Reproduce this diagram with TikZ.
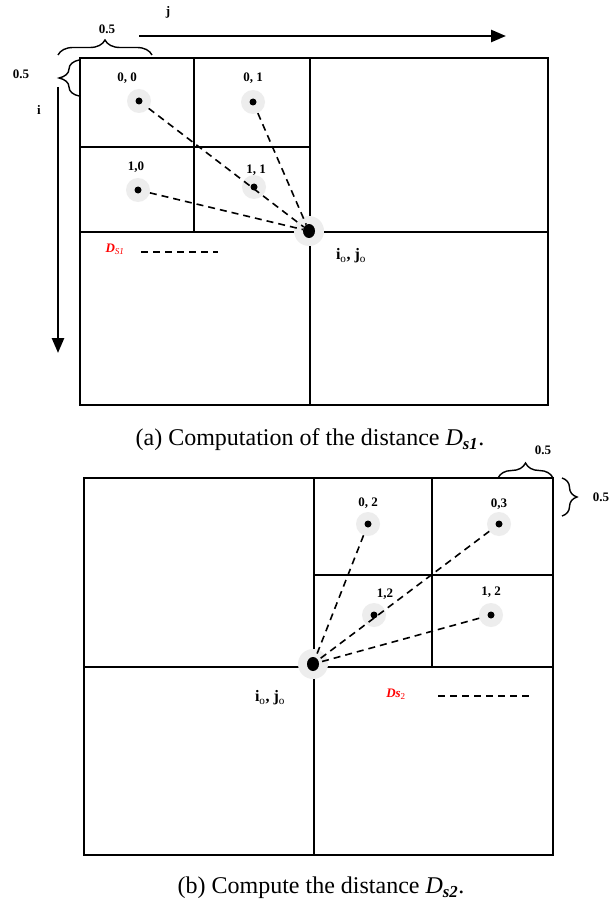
\documentclass[tikz,border=0pt]{standalone}
\usepackage{fontspec}
\setmainfont{Liberation Serif}
\usetikzlibrary{arrows.meta,decorations.pathreplacing,shapes.geometric}
\begin{document}
\begin{tikzpicture}[x=1pt,y=-1pt,
  grid/.style={line width=1.8pt},
  halo/.style={circle,fill=black!7,minimum size=24pt,inner sep=0pt},
  bighalo/.style={circle,fill=black!7,minimum size=30pt,inner sep=0pt},
  dot/.style={circle,fill=black,minimum size=7pt,inner sep=0pt},
  bigdot/.style={ellipse,fill=black,minimum width=12pt,minimum height=14pt,inner sep=0pt},
  link/.style={line width=1.6pt,dash pattern=on 7pt off 5pt},
  lbl/.style={font=\bfseries\fontsize{13}{15}\selectfont,inner sep=0pt},
  axis/.style={line width=2.6pt,-{Triangle[length=15pt,width=12pt]}},
  brc/.style={line width=1.4pt,decorate,decoration={brace,amplitude=#1}},
  brc/.default=15pt,
  captxt/.style={font=\fontsize{24}{28}\selectfont,inner sep=0pt},
  redlbl/.style={text=red,inner sep=0pt}]
\useasboundingbox (0,0) rectangle (611,904);
\fill[white] (0,0) rectangle (611,904);

% ================= (a) =================
\draw[grid] (80,58) rectangle (548,405);
\draw[grid] (310,58) -- (310,405);
\draw[grid] (80,232) -- (548,232);
\draw[grid] (194,58) -- (194,232);
\draw[grid] (80,147) -- (310,147);

\node[halo] (ha00) at (139,101) {};
\node[halo] (ha01) at (253,102) {};
\node[halo] (ha10) at (138,190) {};
\node[halo] (ha11) at (254,187) {};
\node[bighalo] (hac) at (309,231) {};
\node[dot] (a00) at (139,101) {};
\node[dot] (a01) at (253,102) {};
\node[dot] (a10) at (138,190) {};
\node[dot] (a11) at (254,187) {};
\node[bigdot] (ac) at (309,231) {};

\draw[link] (ha00) -- (ac);
\draw[link] (ha01) -- (ac);
\draw[link] (ha10) -- (ac);

\node[lbl] (la00) at (127,78) {0, 0};
\node[lbl] (la01) at (253,78) {0, 1};
\node[lbl] (la10) at (136,167) {1,0};
\node[lbl] (la11) at (256,170) {1, 1};
\node[inner sep=0pt,font=\bfseries\fontsize{16}{18}\selectfont] (laio) at (351,256) {i\textsubscript{\mdseries o}, j\textsubscript{\mdseries o}};

\node[redlbl,font=\bfseries\itshape\fontsize{13}{15}\selectfont] (ads) at (115,249) {D\textsubscript{\mdseries S1}};
\coordinate (adl1) at (141,252);
\coordinate (adl2) at (218,252);
\draw[link] (adl1) -- (adl2);

% axes
\coordinate (j1) at (139,36);
\coordinate (j2) at (506,36);
\draw[axis] (j1) -- (j2);
\node[lbl] (jl) at (168,12) {j};
\coordinate (i1) at (58,87);
\coordinate (i2) at (58,353);
\draw[axis] (i1) -- (i2);
\node[lbl] (il) at (39,110) {i};

% braces
\coordinate (bt1) at (58,55);
\coordinate (bt2) at (152,55);
\draw[brc] (bt1) -- (bt2);
\node[lbl] (btl) at (107,29) {0.5};
\coordinate (bl1) at (79,60);
\coordinate (bl2) at (79,96);
\draw[brc=20pt] (bl2) -- (bl1);
\node[lbl] (bll) at (21,74) {0.5};

\node[captxt] (capa) at (310,440) {(a) Computation of the distance {\itshape D}\textsubscript{\bfseries\itshape s1}.};

% ================= (b) =================
\draw[grid] (84,478) rectangle (553,855);
\draw[grid] (314,478) -- (314,855);
\draw[grid] (84,667) -- (553,667);
\draw[grid] (432,478) -- (432,667);
\draw[grid] (314,575) -- (553,575);

\node[halo] (hb02) at (368,524) {};
\node[halo] (hb03) at (499,524) {};
\node[halo] (hb12) at (374,615) {};
\node[halo] (hb13) at (491,615) {};
\node[bighalo] (hbc) at (313,664) {};
\node[dot] (b02) at (368,524) {};
\node[dot] (b03) at (499,524) {};
\node[dot] (b12) at (374,615) {};
\node[dot] (b13) at (491,615) {};
\node[bigdot] (bc) at (313,664) {};

\draw[link] (hb02) -- (bc);
\draw[link] (hb03) -- (bc);
\draw[link] (hb13) -- (bc);

\node[lbl] (lb02) at (368,503) {0, 2};
\node[lbl] (lb03) at (499,504) {0,3};
\node[lbl] (lb12) at (385,594) {1,2};
\node[lbl] (lb13) at (491,592) {1, 2};
\node[inner sep=0pt,font=\bfseries\fontsize{16}{18}\selectfont] (lbio) at (270,698) {i\textsubscript{\mdseries o}, j\textsubscript{\mdseries o}};

\node[redlbl,font=\bfseries\itshape\fontsize{13}{15}\selectfont] (bds) at (396,694) {Ds\textsubscript{\mdseries\upshape 2}};
\coordinate (bdl1) at (438,696);
\coordinate (bdl2) at (530,696);
\draw[link] (bdl1) -- (bdl2);

\coordinate (bb1) at (498,478);
\coordinate (bb2) at (553,478);
\draw[brc] (bb1) -- (bb2);
\node[lbl] (bbl) at (543,450) {0.5};
\coordinate (br1) at (562,478);
\coordinate (br2) at (562,516);
\draw[brc] (br1) -- (br2);
\node[lbl] (brl) at (601,497) {0.5};

\node[captxt] (capb) at (321,888) {(b) Compute the distance {\itshape D}\textsubscript{\bfseries\itshape s2}.};
\end{tikzpicture}
\end{document}
